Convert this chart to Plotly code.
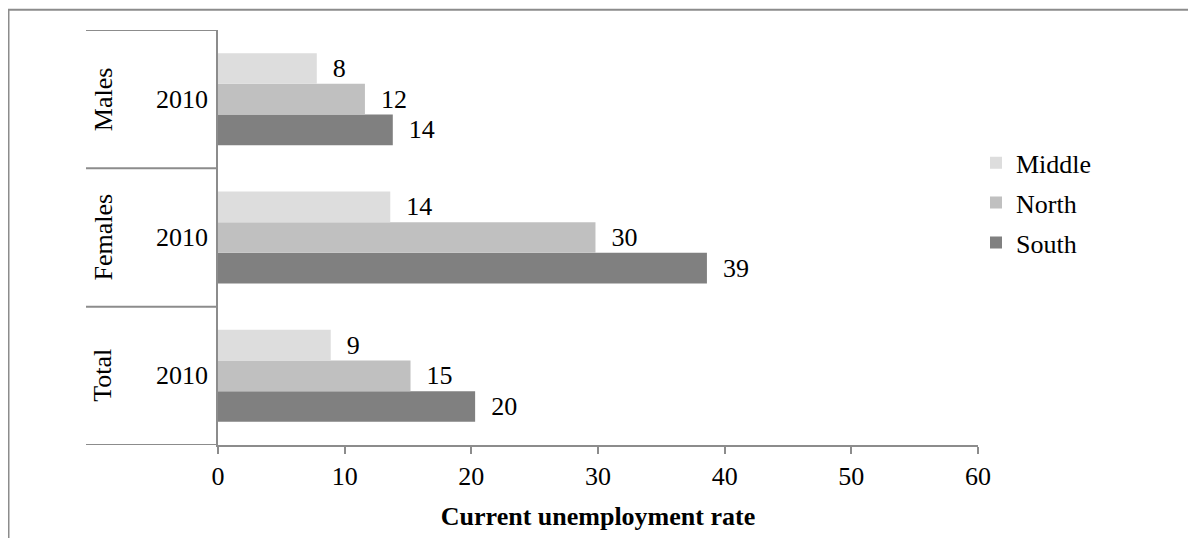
import plotly.graph_objects as go

groups = ["Total", "Females", "Males"]
sub_labels = ["2010", "2010", "2010"]
series_names = ["Middle", "North", "South"]
middle = [8.9, 13.6, 7.8]
north = [15.2, 29.8, 11.6]
south = [20.3, 38.6, 13.8]
colors = {"Middle": "#DDDDDD", "North": "#C0C0C0", "South": "#808080"}
x_ticks = [0, 10, 20, 30, 40, 50, 60]
x_title = "Current unemployment rate"

FONT = "Liberation Serif, Times New Roman, serif"
FS = 26
AX = "#8c8c8c"

# page body has an 8px margin; all pixel targets below are reference pixels
OFF = 8
W, H = 1196 - OFF, 538 - OFF
L, T = 218 - OFF, 30 - OFF
R = W - (978 - OFF)
B = H - (450 - OFF)
pw = W - L - R
ph = H - T - B

def px_x(p):
    return (p - OFF - L) / pw

def px_y(p):
    return (H - B - (p - OFF)) / ph

fig = go.Figure()
values = {"Middle": middle, "North": north, "South": south}
rank = {"Middle": 1, "North": 2, "South": 3}
for name in ["South", "North", "Middle"]:
    fig.add_trace(go.Bar(
        name=name, y=groups, x=values[name], orientation="h",
        marker=dict(color=colors[name], line=dict(width=0)),
        text=values[name], texttemplate="\u00a0\u00a0%{x:.0f}",
        textposition="outside", constraintext="none", cliponaxis=False,
        textfont=dict(family=FONT, size=FS, color="black"),
        legendgroup=name, legendrank=rank[name],
    ))

shapes = []
for yb in [-0.5, 0.5, 1.5, 2.5]:
    shapes.append(dict(type="line", xref="paper", yref="y", x0=px_x(86), x1=0,
                       y0=yb, y1=yb, line=dict(color=AX, width=2)))
shapes.append(dict(type="rect", xref="paper", yref="paper",
                   x0=px_x(8.5), x1=px_x(1250), y0=px_y(9.5), y1=px_y(600),
                   line=dict(color=AX, width=2), layer="below"))

annotations = []
for i, g in enumerate(groups):
    annotations.append(dict(text=g, x=px_x(103), y=i, xref="paper", yref="y",
                            xanchor="center", yanchor="middle",
                            textangle=-90, showarrow=False,
                            font=dict(family=FONT, size=FS, color="black")))
    annotations.append(dict(text=sub_labels[i], x=px_x(182), y=i, xref="paper", yref="y",
                            xanchor="center", yanchor="middle", showarrow=False,
                            font=dict(family=FONT, size=FS, color="black")))

fig.update_layout(
    width=W, height=H,
    margin=dict(l=L, r=R, t=T, b=B, pad=0),
    barmode="group", bargap=0.335, bargroupgap=0,
    plot_bgcolor="white", paper_bgcolor="white",
    font=dict(family=FONT, size=FS, color="black"),
    shapes=shapes, annotations=annotations,
    legend=dict(traceorder="grouped", tracegroupgap=3,
                x=px_x(976), y=px_y(205), xanchor="left", yanchor="middle",
                font=dict(family=FONT, size=FS, color="black"),
                bgcolor="rgba(0,0,0,0)", itemwidth=30),
    xaxis=dict(range=[0, 60], tickvals=x_ticks, showgrid=False, zeroline=False,
               showline=True, linecolor=AX, linewidth=2,
               ticks="outside", ticklen=7, tickwidth=2, tickcolor=AX,
               ticklabelstandoff=0,
               tickfont=dict(family=FONT, size=FS, color="black"),
               title=dict(text="<b>" + x_title + "</b>", standoff=17,
                          font=dict(family=FONT, size=FS, color="black"))),
    yaxis=dict(type="category", categoryorder="array", categoryarray=groups,
               range=[-0.5, 2.5], showticklabels=False, showgrid=False,
               zeroline=False, showline=True, linecolor=AX, linewidth=2, ticks=""),
)

fig.write_html("out.html")
